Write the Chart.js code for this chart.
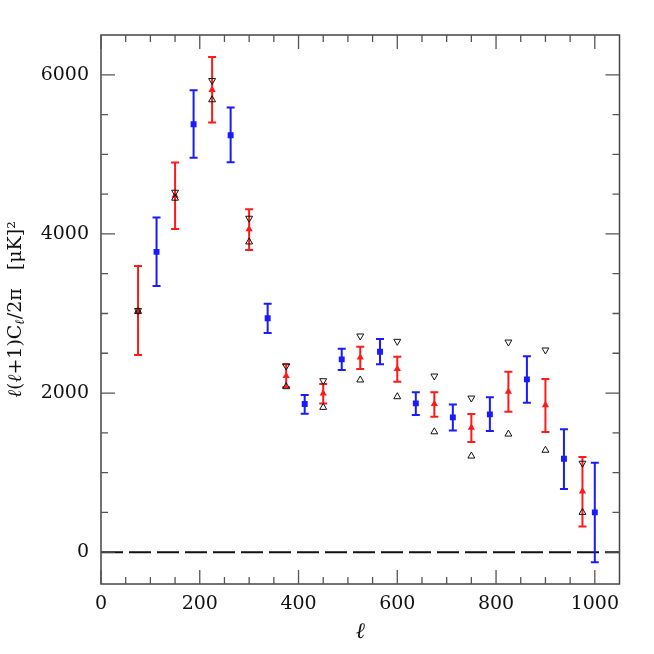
<!DOCTYPE html>
<html><head><meta charset="utf-8">
<script src="https://cdn.jsdelivr.net/npm/chart.js@4/dist/chart.umd.min.js"></script>
<style>html,body{margin:0;padding:0;background:#fff}</style>
</head><body>
<canvas id="c" width="654" height="654" style="display:block;width:654px;height:654px"></canvas>
<script>
// ---- data ----
const redL  = [75,150,225,300,375,450,525,600,675,750,825,900,975];
const redC  = [3031,4482,5811,4059,2214,1996,2448,2302,1862,1564,2017,1849,765];
const redHi = [3597,4897,6222,4310,2361,2113,2583,2457,2009,1736,2268,2176,1197];
const redLo = [2478,4063,5400,3799,2072,1870,2302,2143,1702,1385,1765,1509,323];
const openHi = [3038,4524,5928,4197,2340,2155,2717,2650,2214,1937,2641,2541,1118];
const openLo = [3024,4449,5686,3899,2080,1820,2164,1954,1513,1208,1484,1281,500];
const blueL  = [112.5,187.5,262.5,337.5,412.5,487.5,565,637.5,712.5,787.5,862.5,937.5,1000];
const blueC  = [3774,5379,5241,2939,1862,2423,2520,1870,1694,1732,2172,1174,500];
const blueHi = [4205,5807,5589,3123,1975,2558,2679,2009,1857,1946,2461,1545,1123];
const blueLo = [3346,4956,4902,2755,1740,2289,2361,1723,1530,1522,1878,793,-128];
const refLineX = [0,1050];
const refLineY = [0,0];
const xTicks = [0,200,400,600,800,1000];
const yTicks = [0,2000,4000,6000];
const xMinor = [50,100,150,250,300,350,450,500,550,650,700,750,850,900,950];
const yMinor = [500,1000,1500,2500,3000,3500,4500,5000,5500];
const xLabel = 'ℓ';
const yLabelParts = [['ℓ','i'],['(','n'],['ℓ','i'],['+1)C','n'],['ℓ','s'],['/2π   [μK]²','n']];

const pts = (xs, ys) => xs.map((v,i)=>({x:v,y:ys[i]}));
const FONT = "'DejaVu Serif'";

const errPlugin = {
  id:'err',
  beforeDatasetDraw(chart,args){
    const ds = chart.data.datasets[args.index];
    if(!ds.errLo) return;
    const {ctx, scales:{x,y}} = chart;
    ctx.save(); ctx.strokeStyle = ds.errColor; ctx.lineWidth = 2;
    ds.data.forEach((p,i)=>{
      const px = x.getPixelForValue(p.x);
      const t = y.getPixelForValue(ds.errHi[i]);
      const b = y.getPixelForValue(ds.errLo[i]);
      ctx.beginPath();
      ctx.moveTo(px,t); ctx.lineTo(px,b);
      ctx.moveTo(px-4,t); ctx.lineTo(px+4,t);
      ctx.moveTo(px-4,b); ctx.lineTo(px+4,b);
      ctx.stroke();
    });
    ctx.restore();
  }
};

const framePlugin = {
  id:'frame',
  afterDraw(chart){
    const {ctx, chartArea:a, scales:{x,y}} = chart;
    ctx.save();
    ctx.strokeStyle = '#444'; ctx.lineWidth = 1.5;
    ctx.strokeRect(a.left, a.top, a.right-a.left, a.bottom-a.top);
    ctx.lineWidth = 1.3; ctx.strokeStyle = '#555';
    ctx.beginPath();
    const hx = (v,len)=>{const px=x.getPixelForValue(v); ctx.moveTo(px,a.bottom); ctx.lineTo(px,a.bottom-len); ctx.moveTo(px,a.top); ctx.lineTo(px,a.top+len);};
    const hy = (v,len)=>{const py=y.getPixelForValue(v); ctx.moveTo(a.left,py); ctx.lineTo(a.left+len,py); ctx.moveTo(a.right,py); ctx.lineTo(a.right-len,py);};
    xTicks.forEach(v=>hx(v,14)); xMinor.forEach(v=>hx(v,7));
    yTicks.forEach(v=>hy(v,14)); yMinor.forEach(v=>hy(v,7));
    ctx.stroke();
    // y-axis title with subscript
    const size = 19;
    const fontFor = k => k==='i' ? `italic ${size}px ${FONT}` : k==='s' ? `italic ${Math.round(size*0.7)}px ${FONT}` : `${size}px ${FONT}`;
    let total = 0;
    yLabelParts.forEach(([t,k])=>{ ctx.font = fontFor(k); total += ctx.measureText(t).width; });
    const cy = (a.top + a.bottom)/2;
    ctx.translate(16, cy);
    ctx.rotate(-Math.PI/2);
    ctx.fillStyle = '#111'; ctx.textBaseline = 'middle'; ctx.textAlign = 'left';
    let xx = -total/2;
    yLabelParts.forEach(([t,k])=>{
      ctx.font = fontFor(k);
      ctx.fillText(t, xx, k==='s' ? 5 : 0);
      xx += ctx.measureText(t).width;
    });
    ctx.restore();
  }
};

new Chart(document.getElementById('c'), {
  type:'scatter',
  data:{datasets:[
    {label:'lower', data:pts(redL, openLo), pointStyle:'triangle', pointRadius:4, pointBorderWidth:1, pointBorderColor:'#111', pointBackgroundColor:'rgba(0,0,0,0)'},
    {label:'upper', data:pts(redL, openHi), pointStyle:'triangle', rotation:180, pointRotation:180, pointRadius:4, pointBorderWidth:1, pointBorderColor:'#111', pointBackgroundColor:'rgba(0,0,0,0)'},
    {label:'red', data:pts(redL, redC), errHi:redHi, errLo:redLo, errColor:'#ff1a1a', pointStyle:'triangle', pointRadius:4.2, pointBorderWidth:0, pointBackgroundColor:'#ff1a1a'},
    {label:'blue', data:pts(blueL, blueC), errHi:blueHi, errLo:blueLo, errColor:'#1a1aff', pointStyle:'rect', pointRadius:4.2, pointBorderWidth:0, pointBackgroundColor:'#1a1aff'},
    {type:'line', label:'zero', data:pts(refLineX, refLineY), borderColor:'#111', borderWidth:2, borderDash:[22,6], pointRadius:0, showLine:true, fill:false}
  ]},
  options:{
    responsive:false, animation:false, devicePixelRatio:1,
    layout:{padding:{left:0,right:34.5,top:35,bottom:0}},
    plugins:{legend:{display:false}, tooltip:{enabled:false}},
    scales:{
      x:{type:'linear', min:0, max:1050,
         afterBuildTicks:s=>{s.ticks = xTicks.map(v=>({value:v}));},
         afterFit:s=>{s.height = 70;},
         grid:{display:false, drawTicks:false}, border:{display:false},
         ticks:{padding:9, color:'#111', font:{family:FONT, size:19}, maxRotation:0, autoSkip:false, callback:v=>String(v)},
         title:{display:true, text:xLabel, color:'#111', font:{family:FONT, size:22, style:'italic'}, padding:{top:0,bottom:9}}},
      y:{type:'linear', min:-400, max:6500,
         afterBuildTicks:s=>{s.ticks = yTicks.map(v=>({value:v}));},
         afterFit:s=>{s.width = 101;},
         grid:{display:false, drawTicks:false}, border:{display:false},
         ticks:{padding:12, color:'#111', font:{family:FONT, size:19}, autoSkip:false, callback:v=>String(v)}}
    }
  },
  plugins:[errPlugin, framePlugin]
});
</script>
</body></html>
